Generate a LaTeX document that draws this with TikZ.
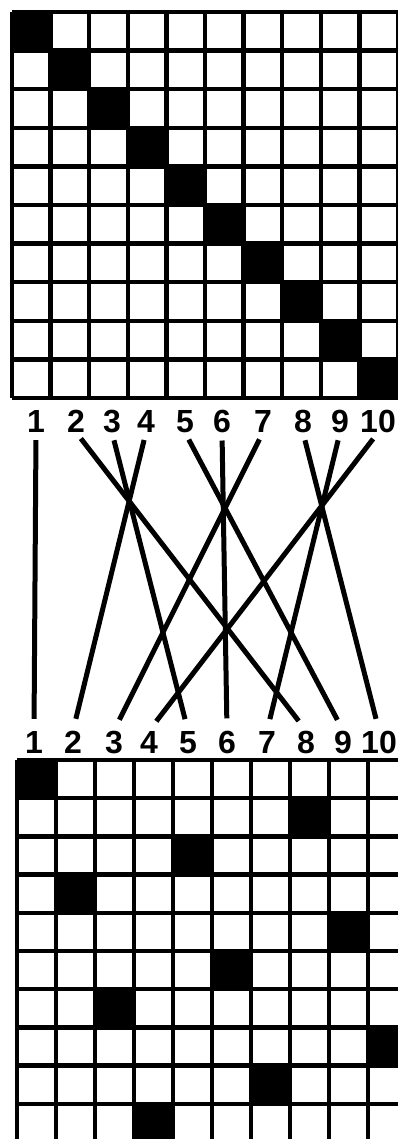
\documentclass[tikz,border=0pt]{standalone}
\usepackage{fontspec}
\setmainfont{Liberation Sans}
\usepackage{tikz}

\tikzset{
  cellrule/.style={line width=4.5pt},
  wire/.style={line width=5pt, shorten <=8pt, shorten >=12pt},
  digit/.style={font=\bfseries\fontsize{32}{32}\selectfont, inner sep=0pt, anchor=base}
}

\begin{document}
\begin{tikzpicture}[x=1pt,y=-1pt]
  \useasboundingbox (0,0) rectangle (398,1139);
  \clip (0,0) rectangle (398,1139);
  % upper board, squares on the diagonal
  \foreach \r in {0,...,9} {
    \fill (12+38.6*\r, 12+38.6*\r) rectangle ++(38.6,38.6);
  }
  \foreach \i in {0,...,10} {
    \draw[cellrule] (12+38.6*\i, 12) -- (12+38.6*\i, 398);
    \draw[cellrule] (12, 12+38.6*\i) -- (398, 12+38.6*\i);
  }
  % numbers above and below the crossing wires
  \foreach \n/\x in {1/36,2/76,3/112,4/146,5/185,6/222,7/263,8/303,9/340,10/378} {
    \node[digit] (t\n) at (\x,432) {\n};
  }
  \foreach \n/\x in {1/34,2/73,3/114,4/149,5/188,6/227,7/267,8/306,9/343,10/379} {
    \node[digit] (b\n) at (\x,753) {\n};
  }
  % the wires
  \foreach \a/\b in {1/1,2/8,3/5,4/2,5/9,6/6,7/3,8/10,9/7,10/4} {
    \draw[wire] (t\a.south) -- (b\b.north);
  }
  % lower board, squares after the shuffle
  \foreach \r/\c in {1/1,2/8,3/5,4/2,5/9,6/6,7/3,8/10,9/7,10/4} {
    \fill (17+39*\c-39, 760+38.2*\r-38.2) rectangle ++(39,38.2);
  }
  \foreach \i in {0,...,10} {
    \draw[cellrule] (17+39*\i, 760) -- (17+39*\i, 1142);
    \draw[cellrule] (17, 760+38.2*\i) -- (407, 760+38.2*\i);
  }
\end{tikzpicture}
\end{document}
